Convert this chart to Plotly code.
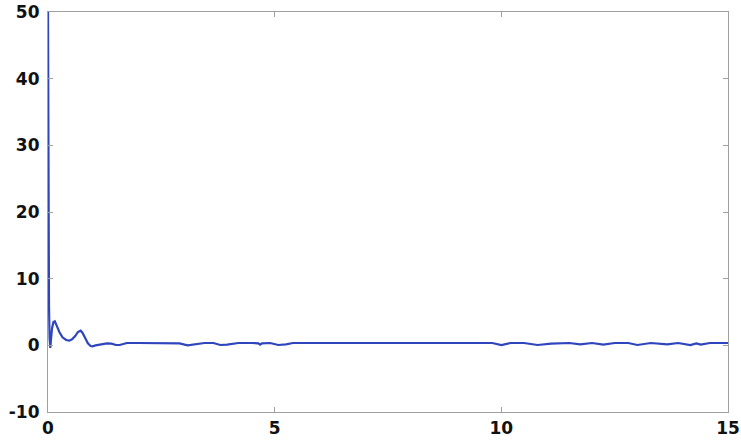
import plotly.graph_objects as go

x_vals = [0, 0.004, 0.012, 0.022, 0.035, 0.05, 0.065, 0.09, 0.12, 0.15, 0.19, 0.25,
          0.32, 0.4, 0.47, 0.53, 0.6, 0.66, 0.72, 0.76, 0.82, 0.88, 0.94, 0.98,
          1.05, 1.2, 1.3, 1.4, 1.5, 1.58, 1.74, 2.0, 2.5, 2.9, 3.08, 3.25, 3.45,
          3.65, 3.8, 3.95, 4.2, 4.5, 4.64, 4.68, 4.72, 4.9, 5.08, 5.25, 5.4, 7.0,
          9.8, 10.0, 10.2, 10.5, 10.8, 11.1, 11.5, 11.74, 12.0, 12.25, 12.5, 12.8,
          13.0, 13.3, 13.66, 13.9, 14.17, 14.3, 14.4, 14.6, 15.0]
y_vals = [50, 30, 14, 6, 1.0, -0.4, 0.8, 2.6, 3.5, 3.6, 3.0, 2.0,
          1.2, 0.8, 0.7, 0.9, 1.4, 2.0, 2.2, 1.9, 1.1, 0.3, -0.1, -0.15,
          0.0, 0.25, 0.3, 0.25, 0.05, 0.05, 0.35, 0.35, 0.35, 0.3, 0.0, 0.2, 0.35,
          0.35, 0.05, 0.1, 0.35, 0.35, 0.3, 0.1, 0.3, 0.35, 0.05, 0.15, 0.35, 0.35,
          0.35, 0.05, 0.35, 0.35, 0.05, 0.25, 0.35, 0.15, 0.35, 0.1, 0.35, 0.35,
          0.05, 0.35, 0.15, 0.35, 0.05, 0.3, 0.1, 0.35, 0.35]

x_ticks = [0, 5, 10, 15]
x_labels = ["0", "5", "10", "15"]
y_ticks = [-10, 0, 10, 20, 30, 40, 50]
y_labels = ["-10", "0", "10", "20", "30", "40", "50"]

fig = go.Figure()
fig.add_trace(go.Scatter(x=x_vals, y=y_vals, mode="lines",
                         line=dict(color="#2f45bd", width=2.2), showlegend=False))

axis_common = dict(showgrid=False, zeroline=False, showline=True, linecolor="#a0a0a0",
                   linewidth=1.2, mirror="ticks", ticks="inside", ticklen=5,
                   tickcolor="#a0a0a0", tickwidth=1, automargin=False,
                   tickfont=dict(family="DejaVu Sans, sans-serif", size=17,
                                 color="#111111", weight="bold"))

fig.update_xaxes(range=[0, 15], tickvals=x_ticks, ticktext=x_labels, **axis_common)
fig.update_yaxes(range=[-10, 50], tickvals=y_ticks, ticktext=y_labels,
                 ticklabelstandoff=4, **axis_common)

fig.update_layout(width=741, height=440, margin=dict(l=48, r=13, t=12, b=28),
                  plot_bgcolor="white", paper_bgcolor="white")

fig.write_html("out.html", config={"displayModeBar": False},
               post_script="document.body.style.margin='0';document.body.style.overflow='hidden';")
